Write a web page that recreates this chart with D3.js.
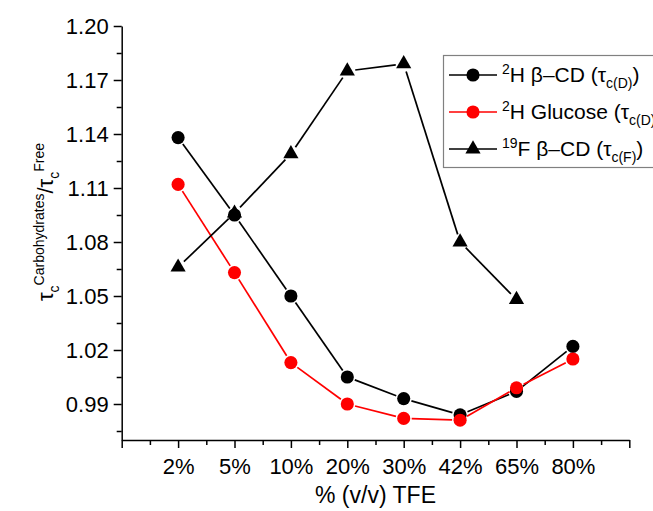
<!DOCTYPE html>
<html>
<head>
<meta charset="utf-8">
<script src="https://cdn.jsdelivr.net/npm/d3@7"></script>
<style>
  body { margin: 0; background: #fff; }
  svg { display: block; font-family: "Liberation Sans", Arial, sans-serif; }
</style>
</head>
<body>
<div id="chart"></div>
<script>
const width = 653
const height = 511

// data
const categories = ["2%", "5%", "10%", "20%", "30%", "42%", "65%", "80%"]
const hBetaCD = [1.138, 1.095, 1.050, 1.005, 0.993, 0.984, 0.997, 1.022]
const hGlucose = [1.112, 1.063, 1.013, 0.990, 0.982, 0.981, 0.999, 1.015]
const fBetaCD = [1.066, 1.096, 1.129, 1.175, 1.179, 1.080, 1.048]

const yMajor = [0.99, 1.02, 1.05, 1.08, 1.11, 1.14, 1.17, 1.20]
const yMinor = [0.975, 1.005, 1.035, 1.065, 1.095, 1.125, 1.155, 1.185]

const svg = d3.select("#chart").append("svg")
    .attr("width", width)
    .attr("height", height)

const x = d3.scaleLinear().domain([0, 9]).range([121.7, 629.3])
const y = d3.scaleLinear().domain([0.97, 1.20]).range([440, 26])

// x axis
const xAxis = svg.append("g").attr("transform", "translate(0,440)")
xAxis.call(d3.axisBottom(x)
    .tickValues(d3.range(0, 10))
    .tickSize(8).tickSizeOuter(0)
    .tickFormat(i => categories[i - 1] || ""))
xAxis.append("g").call(d3.axisBottom(x)
    .tickValues(d3.range(0.5, 9, 1))
    .tickSize(5).tickSizeOuter(0).tickFormat(""))
    .select(".domain").remove()
xAxis.selectAll("text").attr("font-size", 22).attr("dy", 0).attr("y", 34)
    .attr("fill", "#000").attr("font-family", "Liberation Sans, Arial, sans-serif")

// y axis
const yAxis = svg.append("g").attr("transform", "translate(121.7,0)")
yAxis.call(d3.axisLeft(y)
    .tickValues(yMajor)
    .tickSize(8).tickSizeOuter(0)
    .tickFormat(d3.format(".2f")))
yAxis.append("g").call(d3.axisLeft(y)
    .tickValues(yMinor)
    .tickSize(5).tickSizeOuter(0).tickFormat(""))
    .select(".domain").remove()
yAxis.selectAll("text").attr("font-size", 22).attr("x", -13)
    .attr("fill", "#000").attr("font-family", "Liberation Sans, Arial, sans-serif")

svg.selectAll(".domain, .tick line").attr("stroke", "#000").attr("stroke-width", 1.5)

// axis titles
svg.append("text")
    .attr("x", 375.5).attr("y", 503)
    .attr("text-anchor", "middle")
    .attr("font-size", 23)
    .text("% (v/v) TFE")

const yTitle = svg.append("text")
    .attr("transform", "translate(53,222) rotate(-90)")
    .attr("text-anchor", "middle")
yTitle.append("tspan").attr("font-size", 22).text("τ")
yTitle.append("tspan").attr("font-size", 14).attr("dy", 6).text("c")
yTitle.append("tspan").attr("font-size", 14).attr("dy", -15).text("Carbohydrates")
yTitle.append("tspan").attr("font-size", 22).attr("dy", 9).text("/")
yTitle.append("tspan").attr("font-size", 22).text("τ")
yTitle.append("tspan").attr("font-size", 14).attr("dy", 6).text("c")
yTitle.append("tspan").attr("font-size", 14).attr("dy", -15).text("Free")

// series
const series = [
    { name: "2H β–CD", values: hBetaCD, color: "#000", symbol: d3.symbolCircle, sub: "c(D)" },
    { name: "2H Glucose", values: hGlucose, color: "#ff0000", symbol: d3.symbolCircle, sub: "c(D)" },
    { name: "19F β–CD", values: fBetaCD, color: "#000", symbol: d3.symbolTriangle, sub: "c(F)" }
]

const gap = 8
const plot = svg.append("g")

series.forEach(s => {
    const pts = s.values.map((v, i) => [x(i + 1), y(v)])
    const segs = d3.pairs(pts).map(([a, b]) => {
        const dx = b[0] - a[0], dy = b[1] - a[1]
        const len = Math.hypot(dx, dy)
        const ux = dx / len, uy = dy / len
        return [a[0] + ux * gap, a[1] + uy * gap, b[0] - ux * gap, b[1] - uy * gap]
    })
    plot.append("g").selectAll("line")
        .data(segs)
        .join("line")
        .attr("x1", d => d[0]).attr("y1", d => d[1])
        .attr("x2", d => d[2]).attr("y2", d => d[3])
        .attr("stroke", s.color)
        .attr("stroke-width", 1.7)
})

series.forEach(s => {
    const size = s.symbol === d3.symbolCircle ? 135 : 100
    plot.append("g").selectAll("path")
        .data(s.values)
        .join("path")
        .attr("d", d3.symbol().type(s.symbol).size(size))
        .attr("transform", (v, i) => `translate(${x(i + 1)},${y(v)})`)
        .attr("fill", s.color)
})

// legend
const legend = svg.append("g")
legend.append("rect")
    .attr("x", 443.5).attr("y", 55.5)
    .attr("width", 240).attr("height", 112)
    .attr("fill", "#fff")
    .attr("stroke", "#808080")
    .attr("stroke-width", 1.2)

const rowY = [75, 112, 149]
series.forEach((s, i) => {
    const g = legend.append("g").attr("transform", `translate(0,${rowY[i]})`)
    g.append("line")
        .attr("x1", 449).attr("x2", 497)
        .attr("stroke", s.color).attr("stroke-width", 1.7)
    const size = s.symbol === d3.symbolCircle ? 135 : 100
    g.append("path")
        .attr("d", d3.symbol().type(s.symbol).size(size))
        .attr("transform", "translate(473,0)")
        .attr("fill", s.color)
    const iso = s.name.match(/^\d+/)[0]
    const rest = s.name.slice(iso.length)
    const t = g.append("text").attr("x", 502).attr("y", 7)
    t.append("tspan").attr("font-size", 14).attr("dy", -8).text(iso)
    t.append("tspan").attr("font-size", 21).attr("dy", 8).text(rest + " (τ")
    t.append("tspan").attr("font-size", 14).attr("dy", 6).text(s.sub)
    t.append("tspan").attr("font-size", 21).attr("dy", -6).text(")")
})
</script>
</body>
</html>
